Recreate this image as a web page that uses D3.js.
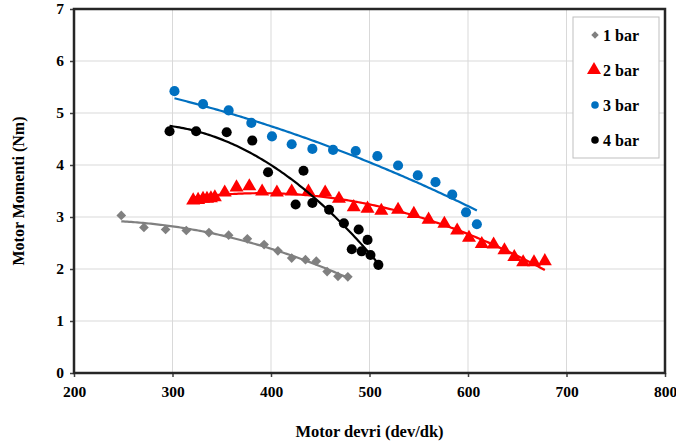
<!DOCTYPE html>
<html>
<head>
<meta charset="utf-8">
<script src="https://cdn.jsdelivr.net/npm/d3@7"></script>
<style>
  body { margin: 0; background: #fff; }
  svg { font-family: "Liberation Serif", "Times New Roman", serif; font-weight: bold; }
</style>
</head>
<body>
<svg id="chart"></svg>
<script>
var svg_width = 676, svg_height = 447;
var margin = { top: 9, right: 11, bottom: 74, left: 74 };
var width = svg_width - margin.left - margin.right;
var height = svg_height - margin.top - margin.bottom;

var xTicks = [200, 300, 400, 500, 600, 700, 800];
var yTicks = [0, 1, 2, 3, 4, 5, 6, 7];

var seriesNames = ["1 bar", "2 bar", "3 bar", "4 bar"];
var seriesColors = ["#808080", "#ff0000", "#0070c0", "#000000"];

var rpm1 = [248, 271, 293, 314, 337, 357, 376, 393, 407, 421, 435, 446, 457, 468, 478];
var torque1 = [3.03, 2.80, 2.76, 2.74, 2.70, 2.65, 2.58, 2.47, 2.35, 2.21, 2.18, 2.15, 1.95, 1.86, 1.85];

var rpm2 = [321, 326, 331, 335, 339, 343, 353, 365, 378, 391, 406, 421, 438, 455, 469, 484, 498,
	512, 529, 545, 560, 576, 589, 601, 614, 626, 637, 647, 656, 667, 678];
var torque2 = [3.32, 3.33, 3.35, 3.35, 3.36, 3.38, 3.47, 3.57, 3.59, 3.49, 3.47, 3.49, 3.49, 3.47, 3.35, 3.19, 3.16,
	3.12, 3.14, 3.06, 2.95, 2.87, 2.74, 2.60, 2.48, 2.47, 2.36, 2.23, 2.13, 2.13, 2.15];

var rpm3 = [302, 331, 357, 380, 401, 421, 442, 463, 486, 508, 529, 549, 567, 584, 598, 609];
var torque3 = [5.42, 5.17, 5.05, 4.81, 4.55, 4.40, 4.31, 4.29, 4.27, 4.17, 3.99, 3.80, 3.67, 3.43, 3.09, 2.86];

var rpm4 = [297, 324, 355, 381, 397, 425, 433, 442, 459, 474, 482, 489, 492, 498, 501, 509];
var torque4 = [4.65, 4.65, 4.63, 4.47, 3.86, 3.24, 3.89, 3.27, 3.14, 2.88, 2.38, 2.76, 2.34, 2.56, 2.27, 2.08];

var rpms = [rpm1, rpm2, rpm3, rpm4];
var torques = [torque1, torque2, torque3, torque4];
var symbols = [d3.symbolDiamond2, d3.symbolTriangle, d3.symbolCircle, d3.symbolCircle];
var symSizes = [60, 85, 80, 80];

var x = d3.scaleLinear().domain([200, 800]).range([0, width]);
var y = d3.scaleLinear().domain([0, 7]).range([height, 0]);

// least squares quadratic, like the spreadsheet trendline
function polyFit(xs, ys) {
	var n = xs.length, s = [0, 0, 0, 0, 0], t = [0, 0, 0];
	for (var i = 0; i < n; i++) {
		var p = 1;
		for (var k = 0; k < 5; k++) { s[k] += p; if (k < 3) t[k] += p * ys[i]; p *= xs[i]; }
	}
	var m = [[s[0], s[1], s[2], t[0]], [s[1], s[2], s[3], t[1]], [s[2], s[3], s[4], t[2]]];
	for (var c = 0; c < 3; c++) {
		for (var r = c + 1; r < 3; r++) {
			var f = m[r][c] / m[c][c];
			for (var j = c; j < 4; j++) m[r][j] -= f * m[c][j];
		}
	}
	var a = [0, 0, 0];
	for (var r = 2; r >= 0; r--) {
		var v = m[r][3];
		for (var j = r + 1; j < 3; j++) v -= m[r][j] * a[j];
		a[r] = v / m[r][r];
	}
	return function (v) { return a[0] + a[1] * v + a[2] * v * v; };
}

var svg = d3.select("#chart")
	.attr("width", svg_width)
	.attr("height", svg_height);

var g = svg.append("g")
	.attr("transform", "translate(" + margin.left + "," + margin.top + ")");

// grid
g.append("g")
	.selectAll("line.gx")
	.data(xTicks.slice(1, -1))
	.enter().append("line")
	.attr("x1", function (d) { return x(d); })
	.attr("x2", function (d) { return x(d); })
	.attr("y1", 0).attr("y2", height)
	.attr("stroke", "#d9d9d9").attr("stroke-width", 1);

g.append("g")
	.selectAll("line.gy")
	.data(yTicks.slice(1, -1))
	.enter().append("line")
	.attr("y1", function (d) { return y(d); })
	.attr("y2", function (d) { return y(d); })
	.attr("x1", 0).attr("x2", width)
	.attr("stroke", "#d9d9d9").attr("stroke-width", 1);

// axes
var xAxis = g.append("g")
	.attr("transform", "translate(0," + height + ")")
	.call(d3.axisBottom(x).tickValues(xTicks).tickSize(4).tickPadding(6).tickFormat(d3.format("d")));
var yAxis = g.append("g")
	.call(d3.axisLeft(y).tickValues(yTicks).tickSize(4).tickPadding(6).tickFormat(d3.format("d")));

[xAxis, yAxis].forEach(function (a) {
	a.select(".domain").remove();
	a.selectAll("line").attr("stroke", "#404040").attr("stroke-width", 1.5);
	a.selectAll("text")
		.attr("fill", "#000")
		.style("font-size", "15.5px")
		.style("font-family", "'Liberation Serif', serif")
		.style("font-weight", "bold");
});
xAxis.selectAll("text").attr("dy", "0.9em");

// series
for (var s = 0; s < 4; s++) {
	var xs = rpms[s], ys = torques[s];
	var fit = polyFit(xs, ys);
	var lo = d3.min(xs), hi = d3.max(xs);
	var pts = d3.range(lo, hi, 2).concat([hi]);
	var line = d3.line()
		.x(function (d) { return x(d); })
		.y(function (d) { return y(fit(d)); });

	g.append("path")
		.datum(pts)
		.attr("fill", "none")
		.attr("stroke", seriesColors[s])
		.attr("stroke-width", 2.2)
		.attr("d", line);

	var pts2 = xs.map(function (v, i) { return [v, ys[i]]; });
	g.append("g")
		.selectAll("path")
		.data(pts2)
		.enter().append("path")
		.attr("transform", function (d) { return "translate(" + x(d[0]) + "," + y(d[1]) + ")"; })
		.attr("d", d3.symbol().type(symbols[s]).size(symSizes[s]))
		.attr("fill", seriesColors[s]);
}

// plot frame
g.append("rect")
	.attr("x", 0).attr("y", 0)
	.attr("width", width).attr("height", height)
	.attr("fill", "none")
	.attr("stroke", "#262626")
	.attr("stroke-width", 2.5);

// legend
var legend = g.append("g")
	.attr("transform", "translate(" + (573 - margin.left) + "," + (17 - margin.top) + ")");
legend.append("rect")
	.attr("width", 86).attr("height", 141)
	.attr("fill", "#fff")
	.attr("stroke", "#bfbfbf");

var legSizes = [36, 85, 45, 45];
seriesNames.forEach(function (name, i) {
	var row = legend.append("g")
		.attr("transform", "translate(0," + (18 + i * 35) + ")");
	row.append("path")
		.attr("transform", "translate(" + (i == 1 ? 21 : 22) + ",0)")
		.attr("d", d3.symbol().type(symbols[i]).size(legSizes[i]))
		.attr("fill", seriesColors[i]);
	row.append("text")
		.attr("x", 30)
		.attr("dy", "0.35em")
		.attr("fill", "#000")
		.style("font-size", "16px")
		.text(name);
});

// axis titles
svg.append("text")
	.attr("x", margin.left + width / 2)
	.attr("y", 437)
	.attr("text-anchor", "middle")
	.style("font-size", "16.5px")
	.text("Motor devri (dev/dk)");

svg.append("text")
	.attr("transform", "translate(24," + (margin.top + height / 2) + ") rotate(-90)")
	.attr("text-anchor", "middle")
	.style("font-size", "16px")
	.text("Motor Momenti (Nm)");
</script>
</body>
</html>
